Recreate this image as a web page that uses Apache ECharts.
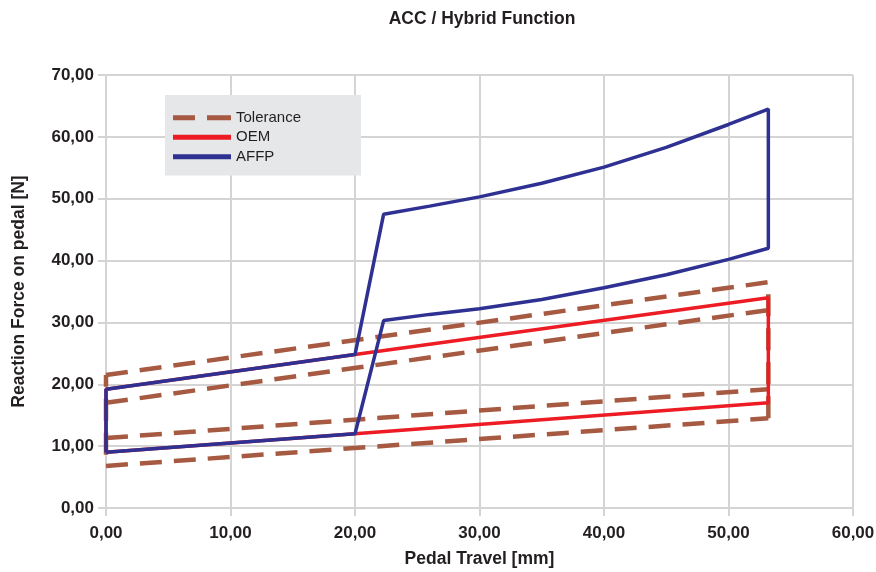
<!DOCTYPE html>
<html>
<head>
<meta charset="utf-8">
<script src="https://cdn.jsdelivr.net/npm/echarts@6/dist/echarts.min.js"></script>
<style>
  html, body { margin: 0; padding: 0; background: #fff; }
  #chart { width: 876px; height: 572px; }
</style>
</head>
<body>
<div id="chart"></div>
<script>
// Axis ticks
const xTicks = [0, 10, 20, 30, 40, 50, 60];
const yTicks = [0, 10, 20, 30, 40, 50, 60, 70];

// Tolerance band (dashed), null breaks the line into segments
const toleranceData = [
  [0, 21.5], [53.2, 36.5], null,
  [0, 17.0], [53.2, 32.0], null,
  [0, 11.3], [53.2, 19.2], null,
  [0, 6.8], [53.2, 14.5], null,
  [0, 8.6], [0, 21.5], null,
  [53.2, 14.5], [53.2, 36.5]
];

// OEM loop
const oemData = [
  [0, 9.0], [20, 12.0], [53.2, 17.0], [53.2, 34.0], [20, 24.8], [0, 19.2], [0, 9.0]
];

// AFFP loop
const affpData = [
  [0, 9.0], [20, 12.0], [22.3, 30.3], [26, 31.3], [30, 32.2], [35, 33.7], [40, 35.6],
  [45, 37.7], [50, 40.2], [53.2, 42.0], [53.2, 64.5], [50, 62.0], [45, 58.3],
  [40, 55.1], [35, 52.5], [30, 50.3], [26, 48.8], [22.3, 47.5], [20, 24.8], [0, 19.2], [0, 9.0]
];

const font = 'Liberation Sans, Arial, sans-serif';
const fmt = (v) => v.toFixed(2).replace('.', ',');

// legend icons: dashed and solid bars (58 x 5)
const dashIcon = 'path://M0,0h22v5H0z M34,0h24v5H34z';
const solidIcon = 'path://M0,0h58v5H0z';

let myChart = echarts.init(document.getElementById('chart'));

const option = {
  animation: false,
  title: {
    text: 'ACC / Hybrid Function',
    left: 477,
    textAlign: 'center',
    top: 5,
    textStyle: { fontFamily: font, fontSize: 17.5, fontWeight: 'bold', color: '#231f20' }
  },
  legend: {
    orient: 'vertical',
    left: 165,
    top: 95,
    width: 195,
    padding: [13, 60, 9, 8],
    itemGap: 0,
    itemWidth: 58,
    itemHeight: 5,
    backgroundColor: '#e6e7e8',
    textStyle: { fontFamily: font, fontSize: 15, lineHeight: 19.5, color: '#231f20' },
    data: [
      { name: 'Tolerance', icon: dashIcon, itemStyle: { color: '#a65a42' } },
      { name: 'OEM', icon: solidIcon, itemStyle: { color: '#ed1c24' } },
      { name: 'AFFP', icon: solidIcon, itemStyle: { color: '#2e3192' } }
    ]
  },
  grid: { left: 106, right: 23, top: 75, bottom: 64, outerBoundsMode: 'none' },
  xAxis: [
    {
      type: 'value',
      min: 0, max: 60, interval: 10,
      name: 'Pedal Travel [mm]',
      nameLocation: 'middle',
      nameGap: 42,
      nameTextStyle: { fontFamily: font, fontSize: 17.5, fontWeight: 'bold', color: '#231f20' },
      axisLine: { show: false },
      axisTick: { show: true, length: 8, lineStyle: { color: '#d4d4d4', width: 2 } },
      axisLabel: { fontFamily: font, fontSize: 17, fontWeight: 'bold', color: '#231f20', margin: 17, formatter: fmt },
      splitLine: { lineStyle: { color: '#d4d4d4', width: 2 } }
    },
    {
      type: 'value', position: 'top',
      min: 0, max: 60, interval: 10,
      axisLine: { show: false },
      axisTick: { show: true, length: 10, lineStyle: { color: '#d4d4d4', width: 2 } },
      axisLabel: { show: false },
      splitLine: { show: false }
    }
  ],
  yAxis: [
    {
      type: 'value',
      min: 0, max: 70, interval: 10,
      name: 'Reaction Force on pedal [N]',
      nameLocation: 'middle',
      nameGap: 78,
      nameTextStyle: { fontFamily: font, fontSize: 17.5, fontWeight: 'bold', color: '#231f20' },
      axisLine: { show: false },
      axisTick: { show: true, length: 8, lineStyle: { color: '#d4d4d4', width: 2 } },
      axisLabel: { fontFamily: font, fontSize: 17, fontWeight: 'bold', color: '#231f20', margin: 12, formatter: fmt },
      splitLine: { lineStyle: { color: '#d4d4d4', width: 2 } }
    },
    {
      type: 'value', position: 'right',
      min: 0, max: 70, interval: 10,
      axisLine: { show: false },
      axisTick: { show: true, length: 10, lineStyle: { color: '#d4d4d4', width: 2 } },
      axisLabel: { show: false },
      splitLine: { show: false }
    }
  ],
  series: [
    {
      name: 'Tolerance',
      type: 'line',
      data: toleranceData,
      symbol: 'none',
      connectNulls: false,
      lineStyle: { color: '#a65a42', width: 4.5, type: [22, 12] },
      itemStyle: { color: '#a65a42' },
      z: 1
    },
    {
      name: 'OEM',
      type: 'line',
      data: oemData,
      symbol: 'none',
      lineStyle: { color: '#ed1c24', width: 3.5 },
      itemStyle: { color: '#ed1c24' },
      z: 2
    },
    {
      name: 'AFFP',
      type: 'line',
      data: affpData,
      symbol: 'none',
      lineStyle: { color: '#2e3192', width: 3.5 },
      itemStyle: { color: '#2e3192' },
      z: 3
    }
  ]
};

myChart.setOption(option);
</script>
</body>
</html>
